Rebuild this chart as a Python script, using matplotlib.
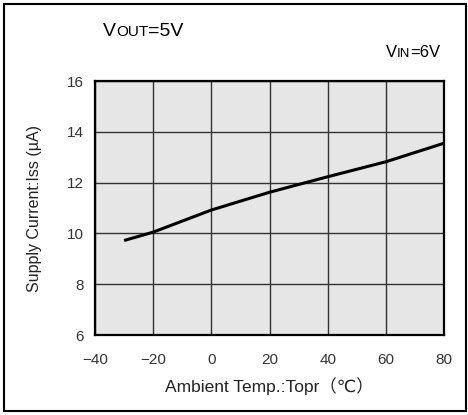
import matplotlib
matplotlib.use('Agg')
import matplotlib.pyplot as plt
from matplotlib.patches import Rectangle

plt.rcParams['font.family'] = ['Liberation Sans', 'DejaVu Sans', 'Noto Sans CJK JP']

temps = [-30, -20, 0, 20, 40, 60, 80]
current = [9.72, 10.05, 10.92, 11.62, 12.23, 12.82, 13.55]
x_ticks = [-40, -20, 0, 20, 40, 60, 80]
y_ticks = [6, 8, 10, 12, 14, 16]

fig = plt.figure(figsize=(4.68, 4.15), dpi=100)
ax = fig.add_axes([95 / 468, 1 - 335 / 415, 349 / 468, 254 / 415])

ax.set_facecolor('#e6e6e6')
ax.plot(temps, current, color='black', lw=2.2, solid_capstyle='butt')

ax.set_xlim(-40, 80)
ax.set_ylim(6, 16)
ax.set_xticks(x_ticks)
ax.set_yticks(y_ticks)
ax.grid(True, color='#333333', lw=1.0)
ax.set_axisbelow(True)
for s in ax.spines.values():
    s.set_linewidth(1.6)
    s.set_color('black')
ax.tick_params(length=0, labelsize=11, colors='#333333', pad=8)
ax.tick_params(axis='x', pad=13)

ax.set_xlabel('Ambient Temp.:Topr（℃）', fontsize=12.5, color='#222222', labelpad=7)
ax.set_ylabel('Supply Current:Iss (µA)', fontsize=11.5, color='#222222', labelpad=18)

# outer frame
fig.patches.append(Rectangle((4 / 468, 4 / 415), 462 / 468, 407 / 415,
                             transform=fig.transFigure, fill=False,
                             edgecolor='black', lw=1.5))

# small-caps style labels
fig.canvas.draw()
r = fig.canvas.get_renderer()


def smallcaps(x, y, parts):
    for txt, size in parts:
        t = fig.text(x / 468, 1 - y / 415, txt, fontsize=size, va='baseline', ha='left')
        x += t.get_window_extent(r).width


smallcaps(103, 36, [('V', 14), ('OUT', 11), ('=5V', 14)])
smallcaps(386, 57, [('V', 12), ('IN', 9.5), ('=6V', 12)])

fig.savefig('out.png', dpi=100)
